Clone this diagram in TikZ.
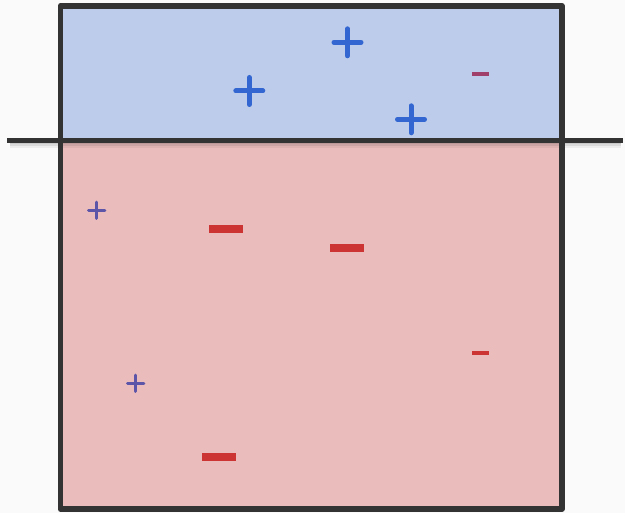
\documentclass[tikz,border=0pt]{standalone}
\usetikzlibrary{calc}
\definecolor{bgc}{HTML}{FAFAFA}
\definecolor{topfill}{HTML}{BDCCEB}
\definecolor{botfill}{HTML}{EBBCBC}
\definecolor{edge}{HTML}{333333}
\definecolor{bigplus}{HTML}{3366D0}
\definecolor{smallplus}{HTML}{5C55A8}
\definecolor{redminus}{HTML}{CC3333}
\definecolor{darkminus}{HTML}{A0406A}
\tikzset{
  bigp/.style={draw=bigplus, line width=5pt, line cap=round},
  smallp/.style={draw=smallplus, line width=3pt, line cap=round},
  wideminus/.style={fill=redminus},
}
% draw a plus sign centred at #2 with half arm length #3
\newcommand{\plussign}[3]{\draw[#1] ($#2+(-#3,0)$) -- ($#2+(#3,0)$) ($#2+(0,-#3)$) -- ($#2+(0,#3)$);}
\begin{document}
\begin{tikzpicture}[x=1pt,y=-1pt]
\useasboundingbox (0,0) rectangle (625,513);
\fill[bgc] (0,0) rectangle (625,513);
% two layers of the container
\fill[topfill] (60.5,6) rectangle (562,140.5);
\fill[botfill] (60.5,140.5) rectangle (562,509);
% positive charges in the upper layer
\plussign{bigp}{(347.5,42.3)}{13.5}
\plussign{bigp}{(249.3,91)}{13.5}
\plussign{bigp}{(411,119.3)}{13.5}
% small charges
\plussign{smallp}{(96.7,210.3)}{8.2}
\plussign{smallp}{(135.7,383.3)}{8.2}
\fill[darkminus] (472.3,72.3) rectangle (488.5,76.3);
\fill[redminus] (472.3,351.3) rectangle (488.7,355.3);
% large negative charges in the lower layer
\fill[wideminus] (209,225) rectangle (243,233);
\fill[wideminus] (330,244) rectangle (364,252);
\fill[wideminus] (202,453) rectangle (236,461);
% soft shadow under the interface line
\foreach \d/\o in {2/0.12,4/0.08,6/0.05}{
  \draw[black, opacity=\o, line width=4pt] (10,140.5+\d) -- (621,140.5+\d);
}
% interface line
\draw[edge, line width=5.3pt] (7,140.5) -- (623,140.5);
% container outline
\draw[edge, line width=5.8pt, line join=round] (60.5,509) -- (60.5,6) -- (562,6) -- (562,509) -- cycle;
\end{tikzpicture}
\end{document}
